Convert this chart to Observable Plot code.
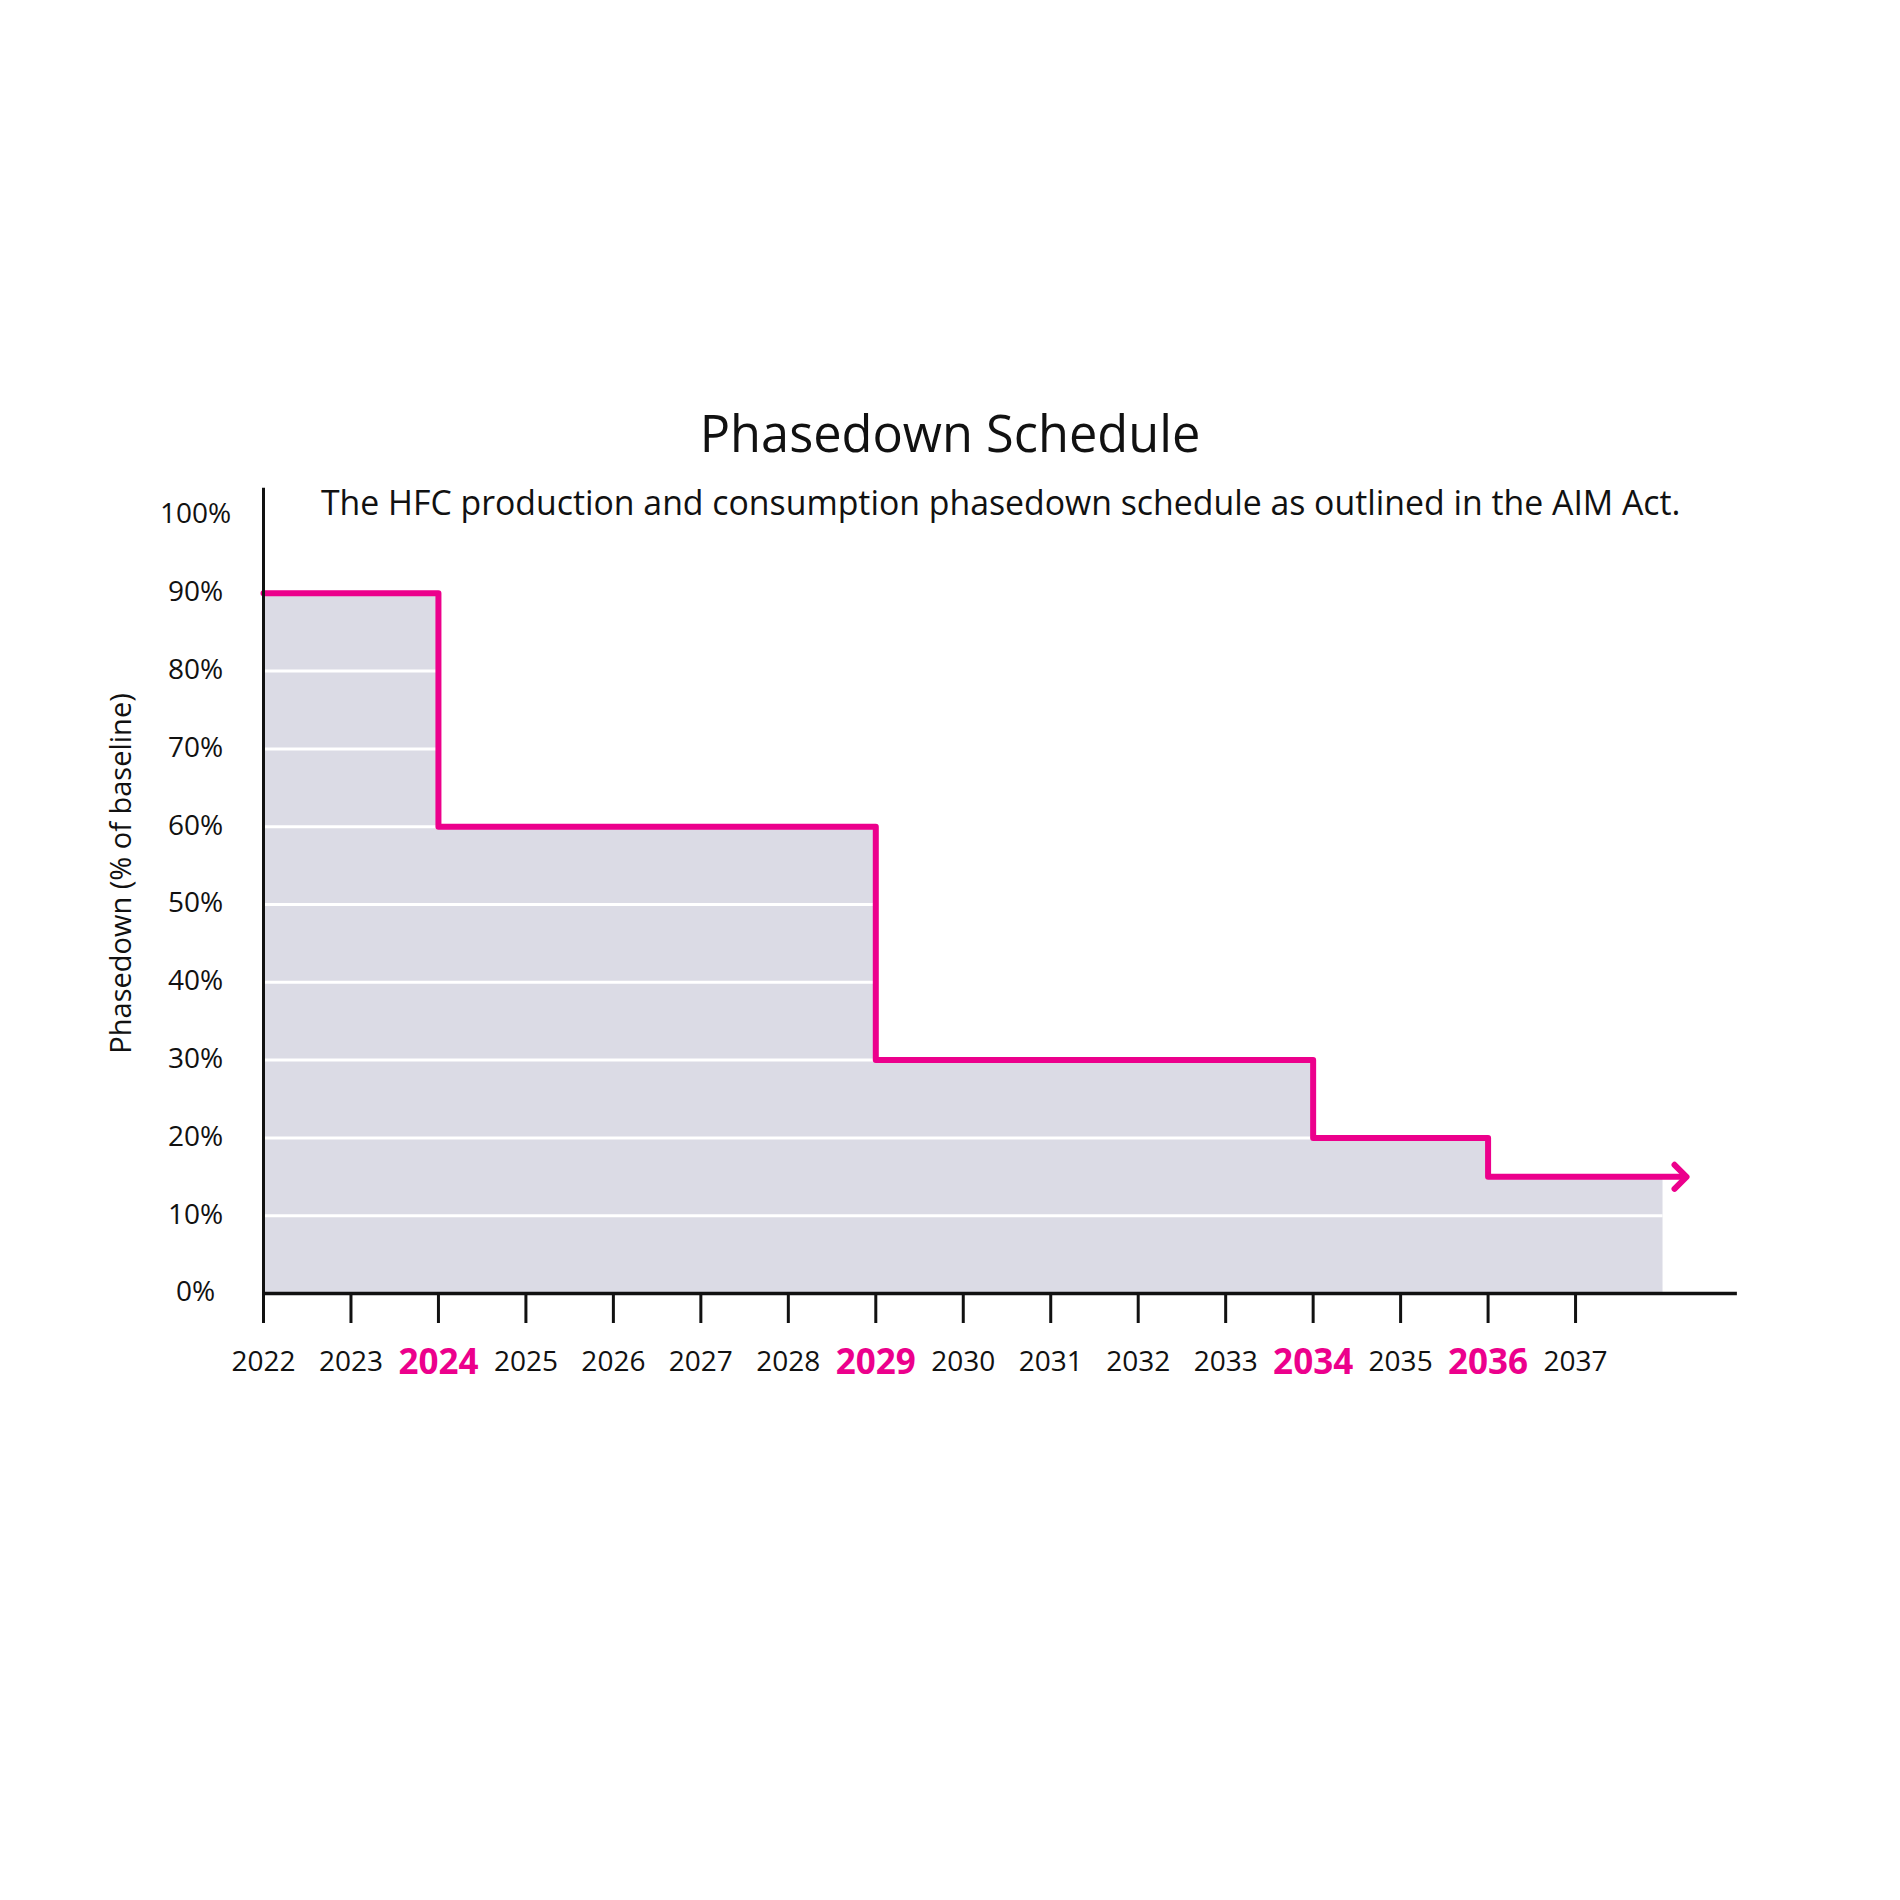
<!DOCTYPE html>
<html><head><meta charset="utf-8">
<script src="https://cdn.jsdelivr.net/npm/d3@7"></script>
<script src="https://cdn.jsdelivr.net/npm/@observablehq/plot@0.6"></script>
<style>
body{margin:0;background:#fff;}
#wrap{position:relative;width:1900px;height:1900px;font-family:"Open Sans",sans-serif;color:#111;}
#chart{position:absolute;left:0;top:0;}
#title{position:absolute;left:0;width:1900px;text-align:center;top:403px;font-size:50.5px;line-height:1.2;}
#subtitle{position:absolute;left:321px;top:482px;font-size:33.8px;line-height:1.2;white-space:nowrap;}
</style></head><body>
<div id="wrap"><div id="chart"></div>
<div id="title">Phasedown Schedule</div>
<div id="subtitle">The HFC production and consumption phasedown schedule as outlined in the AIM Act.</div>
</div>
<script>
const stepYears = [2022, 2024, 2029, 2034, 2036];
const stepValues = [90, 60, 30, 20, 15];
const areaEndYear = 2038;
const arrowEndYear = 2038.2;
const tickYears = [2022, 2023, 2024, 2025, 2026, 2027, 2028, 2029, 2030, 2031, 2032, 2033, 2034, 2035, 2036, 2037];
const highlightYears = [2024, 2029, 2034, 2036];
const yTicks = [0, 10, 20, 30, 40, 50, 60, 70, 80, 90, 100];
const gridValues = [10, 20, 30, 40, 50, 60, 70, 80, 90];
const yAxisTop = 103.5;
const xAxisEnd = 2038.85;
const yLabel = "Phasedown (% of baseline)";

const pink = "#ec008c";
const ink = "#111";

const steps = stepYears.map((year, i) => ({year, value: stepValues[i]}));
const areaData = steps.concat([{year: areaEndYear, value: stepValues[stepValues.length - 1]}]);
const lineData = steps.concat([{year: arrowEndYear, value: stepValues[stepValues.length - 1]}]);

const chart = Plot.plot({
  width: 1900, height: 1900,
  marginLeft: 263, marginRight: 150, marginTop: 515, marginBottom: 607,
  x: {domain: [2022, 2039], label: null},
  y: {domain: [0, 100], label: null},
  style: {fontFamily: "'Open Sans', sans-serif", background: "transparent", color: ink},
  marks: [
    Plot.areaY(areaData, {x: "year", y: "value", curve: "step-after", fill: "#dbdbe5"}),
    Plot.ruleY(gridValues, {x1: 2022, x2: areaEndYear, stroke: "#fff", strokeWidth: 3}),
    Plot.line(lineData, {x: "year", y: "value", curve: "step-after", stroke: pink, strokeWidth: 6, markerEnd: "arrow"}),
    Plot.ruleY([0], {x1: 2022, x2: xAxisEnd, stroke: ink, strokeWidth: 3.5}),
    Plot.ruleX([2022], {y1: 0, y2: yAxisTop, stroke: ink, strokeWidth: 3}),
    Plot.axisX({ticks: tickYears, tickSize: 30, tickFormat: () => "", stroke: ink, strokeWidth: 3, label: null}),
    Plot.axisY({ticks: yTicks, tickSize: 0, tickPadding: 68, textAnchor: "middle", tickFormat: d => d + "%", fontSize: 28, fill: ink, dy: -1, label: null}),
    Plot.text(tickYears.filter(d => !highlightYears.includes(d)), {x: d => d, text: d => String(d), frameAnchor: "bottom", dy: 77, fontSize: 28, fill: ink}),
    Plot.text(highlightYears, {x: d => d, text: d => String(d), frameAnchor: "bottom", dy: 80, fontSize: 35, fontWeight: "bold", fill: pink}),
    Plot.text([yLabel], {text: d => d, frameAnchor: "left", textAnchor: "middle", rotate: -90, dx: -142, dy: -31, fontSize: 29, fill: ink})
  ]
});
document.getElementById("chart").appendChild(chart);
</script>
</body></html>
